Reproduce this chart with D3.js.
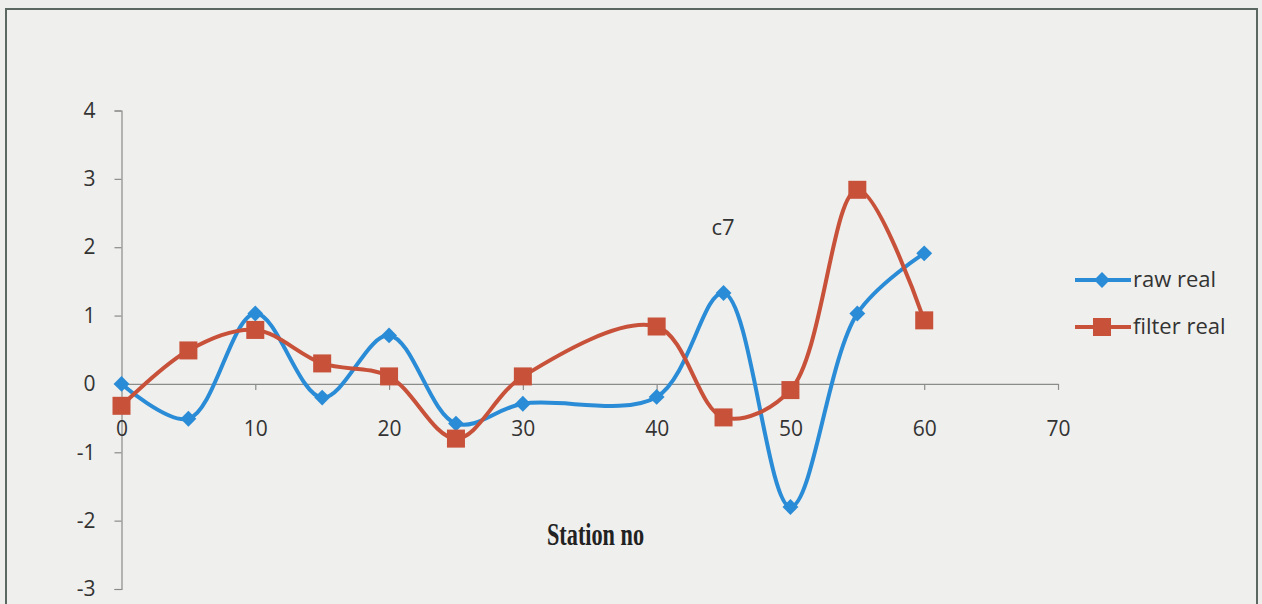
<!DOCTYPE html>
<html>
<head>
<meta charset="utf-8">
<script src="https://cdn.jsdelivr.net/npm/d3@7"></script>
<style>
  html, body { margin: 0; padding: 0; background: #eeeeec; }
  svg { display: block; }
</style>
</head>
<body>
<svg id="chart" width="1262" height="604"></svg>
<script>
// Station numbers along the profile
const stations = [0, 5, 10, 15, 20, 25, 30, 40, 45, 50, 55, 60];
// Raw real component
const rawReal = [0, -0.51, 1.03, -0.2, 0.71, -0.58, -0.29, -0.19, 1.33, -1.8, 1.03, 1.91];
// Filtered real component
const filterReal = [-0.32, 0.49, 0.79, 0.3, 0.11, -0.8, 0.11, 0.84, -0.49, -0.09, 2.84, 0.93];
const xTicks = [0, 10, 20, 30, 40, 50, 60, 70];
const yTicks = [-3, -2, -1, 0, 1, 2, 3, 4];
const seriesNames = ["raw real", "filter real"];
const colors = ["#2a8cd6", "#c8513a"];

const svg = d3.select("#chart");

// paper frame
svg.append("rect").attr("x", 6).attr("y", 9).attr("width", 1251).attr("height", 600)
  .attr("fill", "#efefed").attr("stroke", "#5b6862").attr("stroke-width", 2);

const x = d3.scaleLinear().domain([0, 70]).range([121.5, 1058]);
const y = d3.scaleLinear().domain([-3, 4]).range([589, 110.5]);

const font = "'Open Sans', 'Noto Sans', sans-serif";
const axisColor = "#8a8c8a";
const plain = d => String(d); // hyphen-minus, as in the printed chart

// y axis
const yAxis = svg.append("g").attr("transform", `translate(${x(0)},0)`)
  .call(d3.axisLeft(y).tickValues(yTicks).tickSize(7).tickPadding(19).tickFormat(plain));
yAxis.select(".domain").attr("stroke", axisColor).attr("stroke-width", 1.2);
yAxis.selectAll(".tick line").attr("stroke", axisColor).attr("stroke-width", 1.2);
yAxis.selectAll("text").attr("font-family", font).attr("font-size", 21).attr("fill", "#333");

// x axis through y = 0, labels hang lower
const xAxis = svg.append("g").attr("transform", `translate(0,${y(0)})`)
  .call(d3.axisBottom(x).tickValues(xTicks).tickSize(6).tickSizeOuter(0).tickPadding(31).tickFormat(plain));
xAxis.select(".domain").attr("stroke", axisColor).attr("stroke-width", 1.2);
xAxis.selectAll(".tick line").attr("stroke", axisColor).attr("stroke-width", 1.2);
xAxis.selectAll("text").attr("font-family", font).attr("font-size", 21).attr("fill", "#333");

const line = d3.line().curve(d3.curveCatmullRom.alpha(0.5))
  .x(d => x(d[0])).y(d => y(d[1]));

const series = [rawReal, filterReal].map(vals => stations.map((s, i) => [s, vals[i]]));

series.forEach((pts, k) => {
  svg.append("path").datum(pts).attr("d", line)
    .attr("fill", "none").attr("stroke", colors[k]).attr("stroke-width", 4)
    .attr("stroke-linejoin", "round");
});

// markers
const diamond = d3.symbol().type(d3.symbolDiamond2).size(160);
svg.append("g").selectAll("path").data(series[0]).join("path")
  .attr("d", diamond).attr("transform", d => `translate(${x(d[0])},${y(d[1])})`)
  .attr("fill", colors[0]);
svg.append("g").selectAll("rect").data(series[1]).join("rect")
  .attr("x", d => x(d[0]) - 9).attr("y", d => y(d[1]) - 9)
  .attr("width", 18).attr("height", 18).attr("fill", colors[1]);

// annotation
svg.append("text").attr("x", 723).attr("y", 235).attr("text-anchor", "middle")
  .attr("font-family", font).attr("font-size", 22).attr("fill", "#333").text("c7");

// axis title
svg.append("text").attr("x", 547).attr("y", 545)
  .attr("font-family", "'Liberation Serif', serif").attr("font-weight", "bold")
  .attr("font-size", 32).attr("fill", "#222")
  .attr("textLength", 97).attr("lengthAdjust", "spacingAndGlyphs").text("Station no");

// legend
const legY = [280, 327];
seriesNames.forEach((name, k) => {
  const g = svg.append("g");
  g.append("line").attr("x1", 1075).attr("x2", 1131).attr("y1", legY[k]).attr("y2", legY[k])
    .attr("stroke", colors[k]).attr("stroke-width", 4);
  if (k === 0) {
    g.append("path").attr("d", diamond).attr("transform", `translate(1102,${legY[k]})`).attr("fill", colors[k]);
  } else {
    g.append("rect").attr("x", 1093).attr("y", legY[k] - 9).attr("width", 18).attr("height", 18).attr("fill", colors[k]);
  }
  g.append("text").attr("x", 1133).attr("y", legY[k] + 7)
    .attr("font-family", font).attr("font-size", 22).attr("fill", "#333").text(name);
});
</script>
</body>
</html>
